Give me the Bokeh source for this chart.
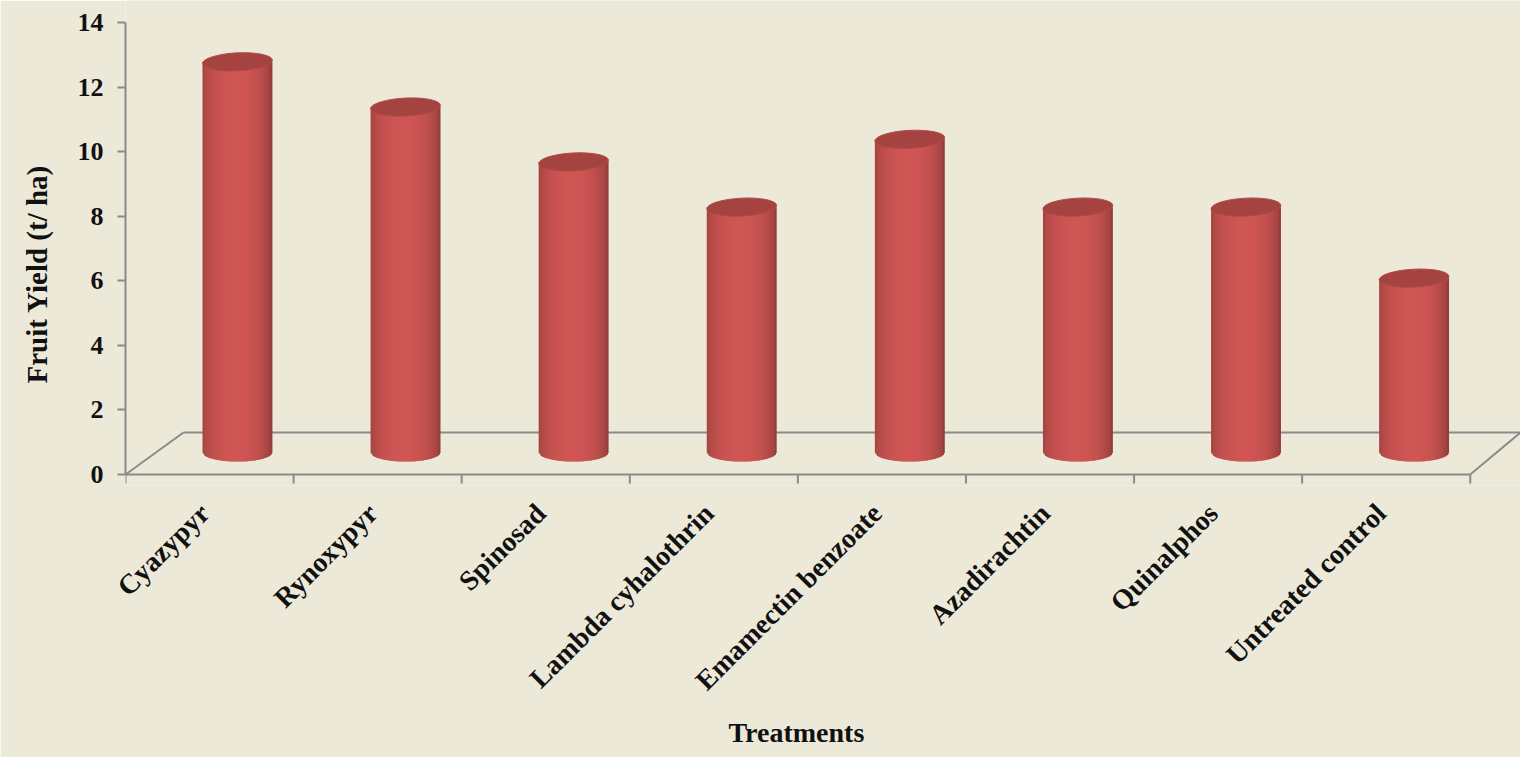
import numpy as np
from math import pi
from bokeh.plotting import figure
from bokeh.models import Range1d, FixedTicker, Title
from bokeh.embed import file_html
from bokeh.resources import INLINE

# ---- data ----
treatments = ["Cyazypyr", "Rynoxypyr", "Spinosad", "Lambda cyhalothrin",
              "Emamectin benzoate", "Azadirachtin", "Quinalphos", "Untreated control"]
fruit_yield = [12.1, 10.7, 9.0, 7.6, 9.7, 7.6, 7.6, 5.4]
y_ticks = [0, 2, 4, 6, 8, 10, 12, 14]

# ---- style ----
BG = "#ECE9D9"
AX = "#8A8A8A"
FONT = "Liberation Serif"
TXT = "#111111"
n = len(treatments)

depth_dx, depth_dy = 0.345, 1.30       # floor depth (x units, y units)
bar_off_x, bar_base = 0.166, 0.68      # bar sits mid-depth on the floor
bar_w = 0.416
ell_half = 0.28                        # half height of ellipse in y units

p = figure(width=1520, height=757, output_backend="svg", toolbar_location=None,
           x_range=Range1d(0, 8.299), y_range=Range1d(-0.34, 14.68),
           min_border_left=125, min_border_right=0, min_border_top=0,
           min_border_bottom=272,
           background_fill_color=BG, border_fill_color=BG,
           outline_line_color=None)
p.grid.visible = False

# y axis
ya = p.yaxis[0]
ya.ticker = FixedTicker(ticks=y_ticks)
ya.bounds = (y_ticks[0], y_ticks[-1])
ya.axis_line_color = AX
ya.axis_line_width = 2
ya.major_tick_line_color = AX
ya.major_tick_line_width = 2
ya.major_tick_out = 8
ya.major_tick_in = 0
ya.minor_tick_line_color = None
ya.major_label_text_font = FONT
ya.major_label_text_font_style = "bold"
ya.major_label_text_font_size = "26px"
ya.major_label_text_color = TXT
ya.major_label_standoff = 14

# x axis (labels at category centres)
xa = p.xaxis[0]
label_pos = [i + 0.47 for i in range(n)]
xa.ticker = FixedTicker(ticks=label_pos)
xa.major_label_overrides = {c: t for c, t in zip(label_pos, treatments)}
xa.major_label_orientation = pi / 4
xa.axis_line_color = None
xa.major_tick_line_color = None
xa.minor_tick_line_color = None
xa.major_label_text_font = FONT
xa.major_label_text_font_style = "bold"
xa.major_label_text_font_size = "28px"
xa.major_label_text_color = TXT
xa.major_label_standoff = 17

# axis titles (as side titles so they can be placed along the axis)
p.add_layout(Title(text="Fruit Yield (t/ ha)", align="left", offset=102,
                   vertical_align="top",
                   text_font=FONT, text_font_style="bold",
                   text_font_size="29px", text_color=TXT, standoff=40), "left")
p.add_layout(Title(text="Treatments", align="left", offset=603,
                   text_font=FONT, text_font_style="bold",
                   text_font_size="28px", text_color=TXT, standoff=10), "below")

# floor (3D base plane)
x_end = p.x_range.end
p.multi_line(xs=[[0, n], [depth_dx, x_end], [0, depth_dx], [n, x_end]],
             ys=[[0, 0], [depth_dy, depth_dy], [0, depth_dy], [0, depth_dy]],
             line_color=AX, line_width=2)
# category boundary ticks
bounds = list(range(n + 1))
p.segment(x0=bounds, y0=[0] * len(bounds), x1=bounds, y1=[-0.28] * len(bounds),
          line_color=AX, line_width=2)

# cylinders
peak = np.array([208, 87, 85])
def shade(u):
    lo = 0.74 if u < 0 else 0.62
    c = max(0.0, np.cos(u * pi / 2)) ** 0.45
    f = lo + (1 - lo) * c
    r, g, b = (peak * f).astype(int)
    return "#%02x%02x%02x" % (r, g, b)

N = 36
xs, ys, cols = [], [], []
tops_x, tops_y = [], []
edges = np.linspace(-1, 1, N + 1)
step = edges[1] - edges[0]
for i, v in enumerate(fruit_yield):
    cx = i + 0.5 + bar_off_x
    top = v + bar_base
    tops_x.append(cx)
    tops_y.append(top)
    for k in range(N):
        u0 = edges[k]
        u1 = min(1.0, edges[k + 1] + 0.6 * step)
        x0 = cx + u0 * bar_w / 2
        x1 = cx + u1 * bar_w / 2
        b0 = bar_base - ell_half * np.sqrt(max(0, 1 - u0 ** 2))
        b1 = bar_base - ell_half * np.sqrt(max(0, 1 - u1 ** 2))
        xs.append([x0, x1, x1, x0])
        ys.append([top, top, b1, b0])
        cols.append(shade((edges[k] + edges[k + 1]) / 2))

p.patches(xs=xs, ys=ys, fill_color=cols, line_color=None)
p.ellipse(x=tops_x, y=tops_y, width=bar_w, height=18, height_units="screen",
          angle=0.05, fill_color="#A54340", line_color="#B44A47", line_width=1)

open("out.html", "w").write(file_html(p, INLINE))
